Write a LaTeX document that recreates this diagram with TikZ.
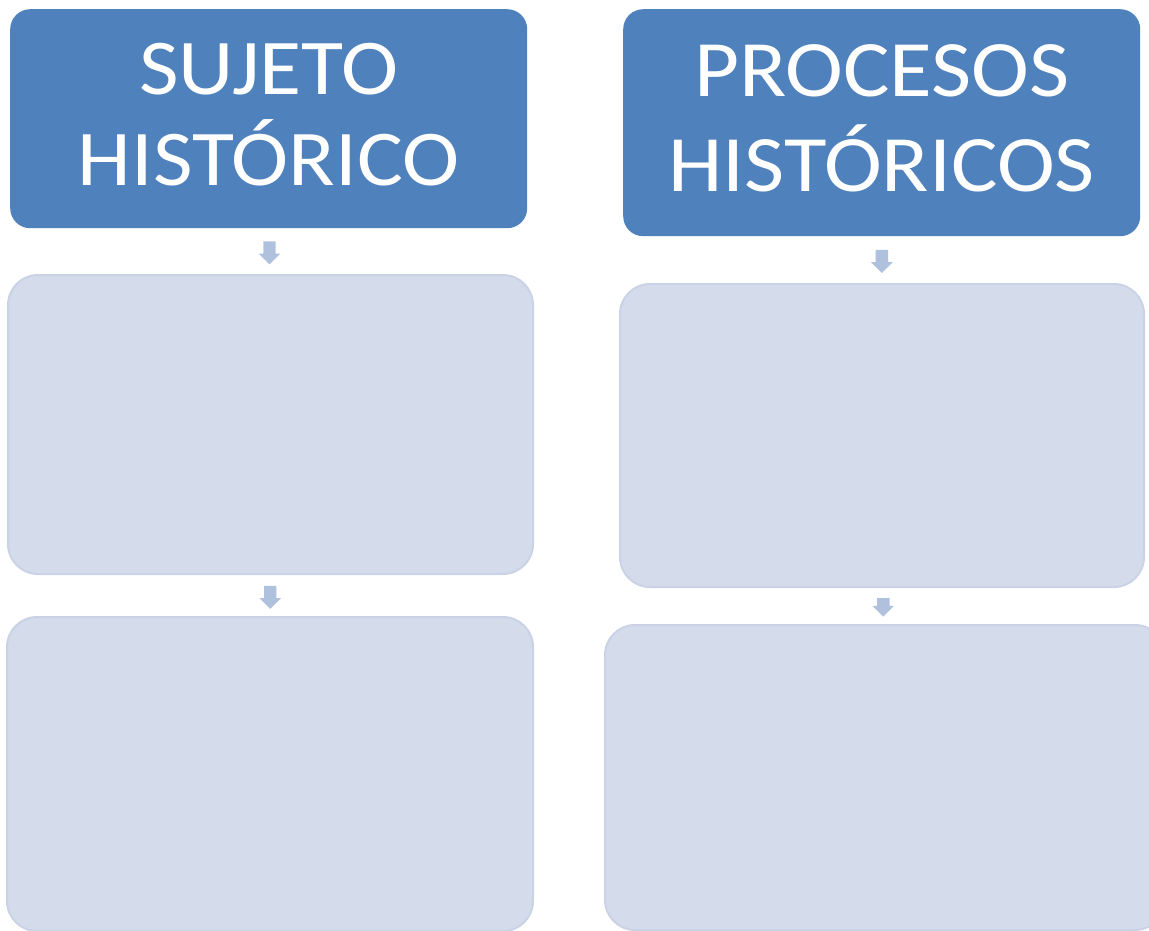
\documentclass[tikz,border=0pt]{standalone}
\usepackage{fontspec}
\setmainfont{Carlito}[FakeStretch=1.09]
\usetikzlibrary{shapes.arrows, calc}
\definecolor{darkA} {RGB}{79, 129, 189}
\definecolor{lightA}{RGB}{212, 220, 235}
\definecolor{lineA} {RGB}{202, 211, 230}
\definecolor{arrowA}{RGB}{176, 193, 222}

\begin{document}
\begin{tikzpicture}[x=1pt, y=-1pt,
  titlebox/.style={rectangle, rounded corners=20pt, fill=darkA, text=white, align=center,
    anchor=north west, inner sep=0pt, font=\fontsize{79}{91}\selectfont},
  blankbox/.style={rectangle, rounded corners=30pt, fill=lightA, draw=lineA, line width=2pt,
    anchor=north west, inner sep=0pt},
  downarrow/.style={single arrow, shape border rotate=270, fill=arrowA, inner sep=6pt,
    single arrow head extend=4.5pt, single arrow head indent=0pt}]
  \useasboundingbox (0,0) rectangle (1149,930);
  \clip (0,0) rectangle (1149,930);

  % left column
  \node[titlebox, minimum width=517pt, minimum height=219pt, text depth=9pt] (sujeto) at (10,9) {SUJETO\\HISTÓRICO};
  \node[blankbox, minimum width=525pt, minimum height=299pt] (sujetoA) at (7,274) {};
  \node[blankbox, minimum width=526pt, minimum height=314pt] (sujetoB) at (6,616) {};

  % right column
  \node[titlebox, minimum width=517pt, minimum height=227pt, text depth=10pt,
    font=\fontsize{80}{95}\selectfont] (procesos) at (623,9) {PROCESOS\\HISTÓRICOS};
  \node[blankbox, minimum width=524pt, minimum height=303pt] (procesosA) at (619,283) {};
  \node[blankbox, minimum width=560pt, minimum height=305pt] (procesosB) at (604,624) {};

  % arrows
  \node[downarrow, minimum height=23pt] (arrA) at ($(sujeto.south)!0.47!(sujetoA.north)$) {};
  \node[downarrow, minimum height=23pt] (arrB) at ($(sujetoA.south)!0.47!(sujetoB.north)$) {};
  \node[downarrow, minimum height=23pt] (arrC) at ($(procesos.south)!0.47!(procesosA.north)$) {};
  \node[downarrow, minimum height=15pt] (arrD) at ($(procesosA.south)!0.45!(procesosB.north)$) {};
\end{tikzpicture}
\end{document}
